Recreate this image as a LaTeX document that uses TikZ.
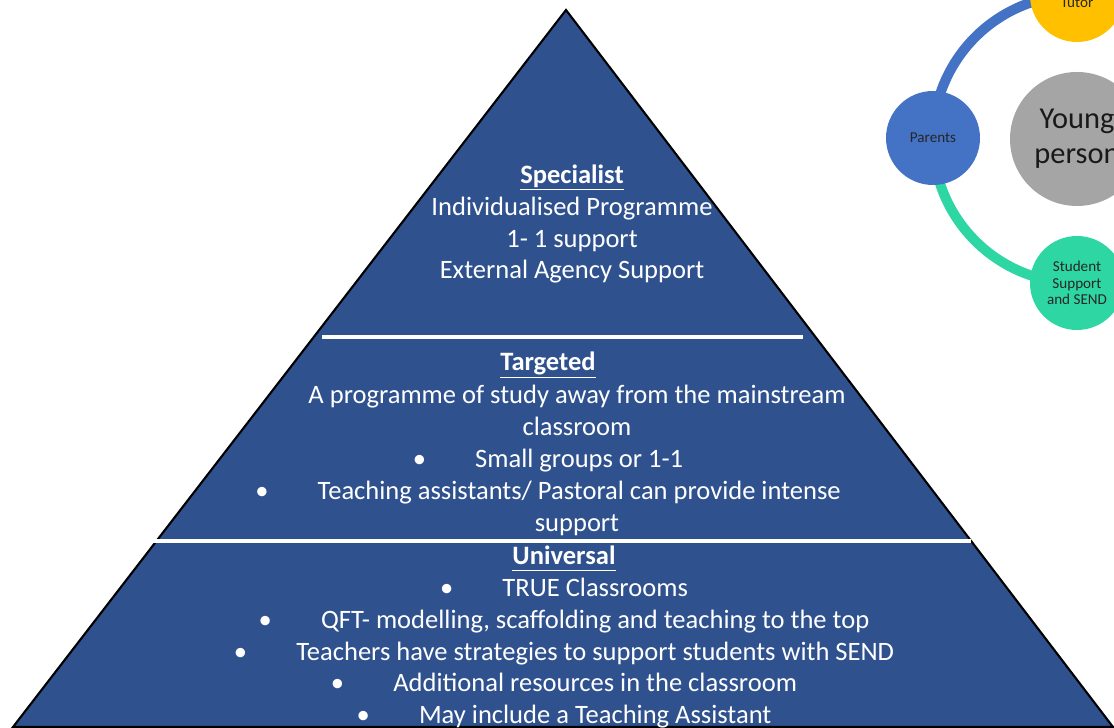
\documentclass[tikz,border=0pt]{standalone}
\usepackage{fontspec}
\setmainfont{Carlito}
\usepackage{tikz}
\definecolor{pyrblue}{RGB}{47,82,143}
\definecolor{ringblue}{RGB}{68,114,196}
\definecolor{ringgreen}{RGB}{46,214,163}
\definecolor{ringgray}{RGB}{165,165,165}
\definecolor{tutoryellow}{RGB}{255,192,0}
\newcommand{\head}[1]{\underline{\textbf{#1}\vphantom{p}}}
\newcommand{\blt}{\textbullet\hspace{28pt}}

\tikzset{
  tier/.style={text=white, align=center, inner sep=0,
    font=\fontsize{15.1}{18.2}\selectfont},
  membertext/.style={text=black!85, align=center,
    font=\fontsize{8.6}{9.4}\selectfont},
  member/.style={circle, minimum size=1.88cm, inner sep=0, membertext}
}

\begin{document}
\begin{tikzpicture}
  \useasboundingbox (0, 0) rectangle (22.28, 14.56);
  \clip (0, 0) rectangle (22.28, 14.56);

  \coordinate (apex) at (11.32, 14.36);
  \coordinate (bl) at (0.26, 0.02);
  \coordinate (br) at (22.26, 0.02);

  \fill[pyrblue] (apex) -- (bl) -- (br) -- cycle;
  \draw[line width=1.2pt] (apex) -- (bl) -- (br) -- cycle;

  \coordinate (s1a) at (6.44, 7.82);
  \coordinate (s1b) at (16.06, 7.82);
  \coordinate (s2a) at (3.04, 3.74);
  \coordinate (s2b) at (19.42, 3.74);

  \draw[white, line width=1.8pt] (s1a) -- (s1b);
  \draw[white, line width=2.3pt] (s2a) -- (s2b);

  \node[tier]
    (spec) at (11.44, 10.08) {\head{Specialist}\\Individualised Programme\\
      1- 1 support\\External Agency Support};

  \node[tier]
    (targ) at (10.96, 7.26) {\head{Targeted}};

  \node[tier]
    (targbody) at (11.54, 5.36) {A programme of study away from the mainstream\\
      classroom\\
      \blt Small groups or 1-1\hspace*{33pt}\mbox{}\\
      \blt Teaching assistants/ Pastoral can provide intense\hspace*{33pt}\mbox{}\\
      support};

  \node[tier]
    (univ) at (11.28, 1.82) {\head{Universal}\\
      \blt TRUE Classrooms\\
      \blt QFT- modelling, scaffolding and teaching to the top\\
      \blt Teachers have strategies to support students with SEND\\
      \blt Additional resources in the classroom\\
      \blt May include a Teaching Assistant};

  % cycle of support
  \coordinate (hub) at (21.54, 11.78);

  \draw[ringblue, line width=0.2cm] (hub) ++(180:2.88) arc (180:90:2.88);
  \draw[ringgreen, line width=0.2cm] (hub) ++(270:2.88) arc (270:180:2.88);

  \node[circle, fill=ringgray, minimum size=2.68cm, inner sep=0, align=center,
    text=black!90, font=\fontsize{17.3}{20}\selectfont]
    (young) at (hub) {Young\\person};

  \node[member, fill=ringblue]
    (parents) at (18.66, 11.80) {Parents};

  \node[member, fill=tutoryellow,
    label={[membertext, yshift=-0.15cm]center:Tutor}]
    (tutor) at (21.54, 14.66) {};

  \node[member, fill=ringgreen]
    (send) at (21.54, 8.90) {Student\\Support\\and SEND};
\end{tikzpicture}
\end{document}
